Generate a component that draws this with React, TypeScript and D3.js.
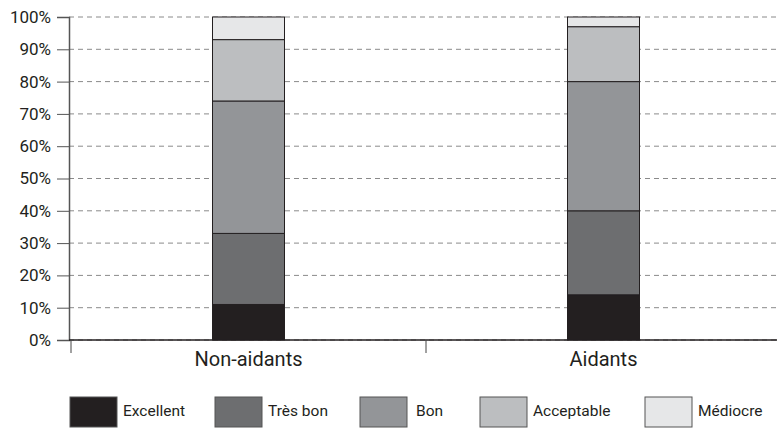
import React, { useEffect, useRef } from 'react'
import * as d3 from 'd3'

const categories = ['Non-aidants', 'Aidants']
const levels = ['Excellent', 'Très bon', 'Bon', 'Acceptable', 'Médiocre']
const excellent = [11, 14]
const tresBon = [22, 26]
const bon = [41, 40]
const acceptable = [19, 17]
const mediocre = [7, 3]
const yTicks = [0, 10, 20, 30, 40, 50, 60, 70, 80, 90, 100]
const colors = ['#231f20', '#6d6e70', '#939598', '#bcbec0', '#e6e7e8']

const W = 777
const H = 428
const margin = { left: 69, top: 17, bottom: 88 }
const FONT = "Roboto, 'DejaVu Sans Condensed', sans-serif"
const legendX = [70, 215, 360, 480, 645]

const App: React.FC = () => {
    const ref = useRef<SVGSVGElement>(null)
    useEffect(() => {
        const svg = d3.select(ref.current)
        svg.selectAll('*').remove()

        const y = d3
            .scaleLinear()
            .domain([0, 100])
            .range([H - margin.bottom, margin.top])
        const x = d3
            .scaleBand()
            .domain(categories)
            .range([71, 781])
            .paddingInner(0)
            .paddingOuter(0)

        const rows = categories.map((c, i) => ({
            cat: c,
            Excellent: excellent[i],
            'Très bon': tresBon[i],
            Bon: bon[i],
            Acceptable: acceptable[i],
            Médiocre: mediocre[i]
        }))
        const stacked = d3.stack<any>().keys(levels)(rows)

        // grid
        svg.append('g')
            .selectAll('line')
            .data(yTicks)
            .join('line')
            .attr('x1', margin.left)
            .attr('x2', W)
            .attr('y1', (d) => y(d))
            .attr('y2', (d) => y(d))
            .attr('stroke', '#8a8a8a')
            .attr('stroke-width', 1)
            .attr('stroke-dasharray', '5,4')

        // y axis
        const yAxis = svg
            .append('g')
            .attr('transform', `translate(${margin.left},0)`)
            .call(
                d3
                    .axisLeft(y)
                    .tickValues(yTicks)
                    .tickSize(12)
                    .tickPadding(6)
                    .tickFormat((d) => `${d}%`)
            )
        yAxis.select('.domain').attr('stroke', '#555').attr('stroke-width', 1.5)
        yAxis.selectAll('.tick line').attr('stroke', '#555')
        yAxis
            .selectAll('text')
            .attr('font-family', FONT)
            .attr('font-size', 17)
            .attr('fill', '#231f20')

        // bars
        const bw = 72
        svg.append('g')
            .selectAll('g')
            .data(stacked)
            .join('g')
            .attr('fill', (_, i) => colors[i])
            .selectAll('rect')
            .data((d) => d)
            .join('rect')
            .attr('x', (d: any) => x(d.data.cat)! + x.bandwidth() / 2 - bw / 2)
            .attr('width', bw)
            .attr('y', (d) => y(d[1]))
            .attr('height', (d) => y(d[0]) - y(d[1]))
            .attr('stroke', '#231f20')
            .attr('stroke-width', 1)

        // x axis
        const xBase = y(0)
        svg.append('line')
            .attr('x1', margin.left)
            .attr('x2', W)
            .attr('y1', xBase)
            .attr('y2', xBase)
            .attr('stroke', '#231f20')
            .attr('stroke-width', 1.5)
        svg.append('g')
            .selectAll('line')
            .data(categories)
            .join('line')
            .attr('x1', (d) => x(d)!)
            .attr('x2', (d) => x(d)!)
            .attr('y1', xBase)
            .attr('y2', xBase + 13)
            .attr('stroke', '#444')
            .attr('stroke-width', 1)
        svg.append('g')
            .selectAll('text')
            .data(categories)
            .join('text')
            .attr('x', (d) => x(d)! + x.bandwidth() / 2)
            .attr('y', xBase + 26)
            .attr('text-anchor', 'middle')
            .attr('font-family', FONT)
            .attr('font-size', 20)
            .attr('fill', '#231f20')
            .text((d) => d)

        // legend
        const lg = svg
            .append('g')
            .selectAll('g')
            .data(levels)
            .join('g')
            .attr('transform', (_, i) => `translate(${legendX[i]},397)`)
        lg.append('rect')
            .attr('width', 47)
            .attr('height', 30)
            .attr('fill', (_, i) => colors[i])
            .attr('stroke', '#555')
            .attr('stroke-width', 1)
        lg.append('text')
            .attr('x', (_, i) => (i === 2 ? 56 : 53))
            .attr('y', 19)
            .attr('font-family', FONT)
            .attr('font-size', 15.5)
            .attr('fill', '#231f20')
            .text((d) => d)
    }, [])
    return (
        <svg
            ref={ref}
            width={W}
            height={H}
            viewBox={`0 0 ${W} ${H}`}
            style={{ position: 'absolute', left: 0, top: 0, background: '#fff' }}
        ></svg>
    )
}

export default App
